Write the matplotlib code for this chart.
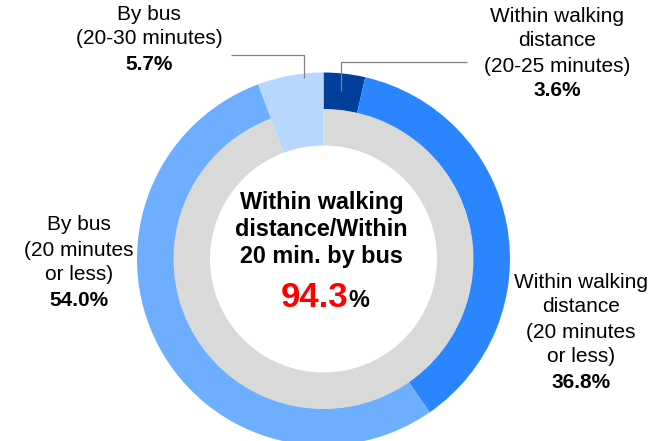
import matplotlib
matplotlib.use("Agg")
import matplotlib.pyplot as plt

# Data
segment_values = [3.6, 36.8, 54.0, 5.7]
segment_colors = ["#00409A", "#2A85FF", "#6EAEFF", "#B8D7FF"]
segment_labels = [
    ["Within walking", "distance", "(20-25 minutes)"],
    ["Within walking", "distance", "(20 minutes", "or less)"],
    ["By bus", "(20 minutes", "or less)"],
    ["By bus", "(20-30 minutes)"],
]
inner_values = [94.3, 5.7]
inner_colors = ["#D9D9D9", "#B8D7FF"]
center_lines = ["Within walking", "distance/Within", "20 min. by bus"]
center_value = 94.3

W, H = 664, 441
FONT = "Liberation Sans"

# label anchors in pixels (x center, y of first line, top-down)
label_pos = [(557, 16), (581, 282), (79, 225), (149, 14)]
# leader lines (top-down pixel coords)
leaders = {
    0: [(467, 62), (341, 62), (341, 91)],
    3: [(231, 55), (304, 55), (304, 78)],
}


def Y(y):
    """Convert top-down pixel y to axes data y"""
    return H - y


fig = plt.figure(figsize=(W / 100, H / 100), dpi=100)
ax = fig.add_axes([0, 0, 1, 1])

cx, cy = 323.5, Y(259)

# Outer ring
ax.pie(segment_values, colors=segment_colors, startangle=90, counterclock=False,
       radius=186.5, center=(cx, cy),
       wedgeprops=dict(width=37, linewidth=0))
# Inner ring
ax.pie(inner_values, colors=inner_colors, startangle=90, counterclock=False,
       radius=150, center=(cx, cy),
       wedgeprops=dict(width=36.5, linewidth=0))

ax.set_xlim(0, W)
ax.set_ylim(0, H)
ax.set_aspect("equal")
ax.axis("off")

# Leader lines
for pts in leaders.values():
    xs = [p[0] for p in pts]
    ys = [Y(p[1]) for p in pts]
    ax.plot(xs, ys, color="#808080", lw=0.9, solid_capstyle="butt")

# Segment labels
step = 25
for (x, y0), lines, val in zip(label_pos, segment_labels, segment_values):
    for i, line in enumerate(lines):
        ax.text(x, Y(y0 + i * step), line, ha="center", va="center",
                fontsize=15, family=FONT, color="#000000")
    ax.text(x, Y(y0 + len(lines) * step), f"{val:.1f}%", ha="center",
            va="center", fontsize=15, family=FONT, fontweight="bold",
            color="#000000")

# Center text
for i, line in enumerate(center_lines):
    ax.text(321.5, Y(202 + i * 27.5), line, ha="center", va="center",
            fontsize=16.8, family=FONT, fontweight="bold", color="#000000")
ax.text(348, Y(307), f"{center_value:.1f}", ha="right", va="baseline",
        fontsize=25, family=FONT, fontweight="bold", color="#FF0000")
ax.text(348, Y(307), "%", ha="left", va="baseline",
        fontsize=16.8, family=FONT, fontweight="bold", color="#000000")

fig.savefig("out.png", dpi=100)
